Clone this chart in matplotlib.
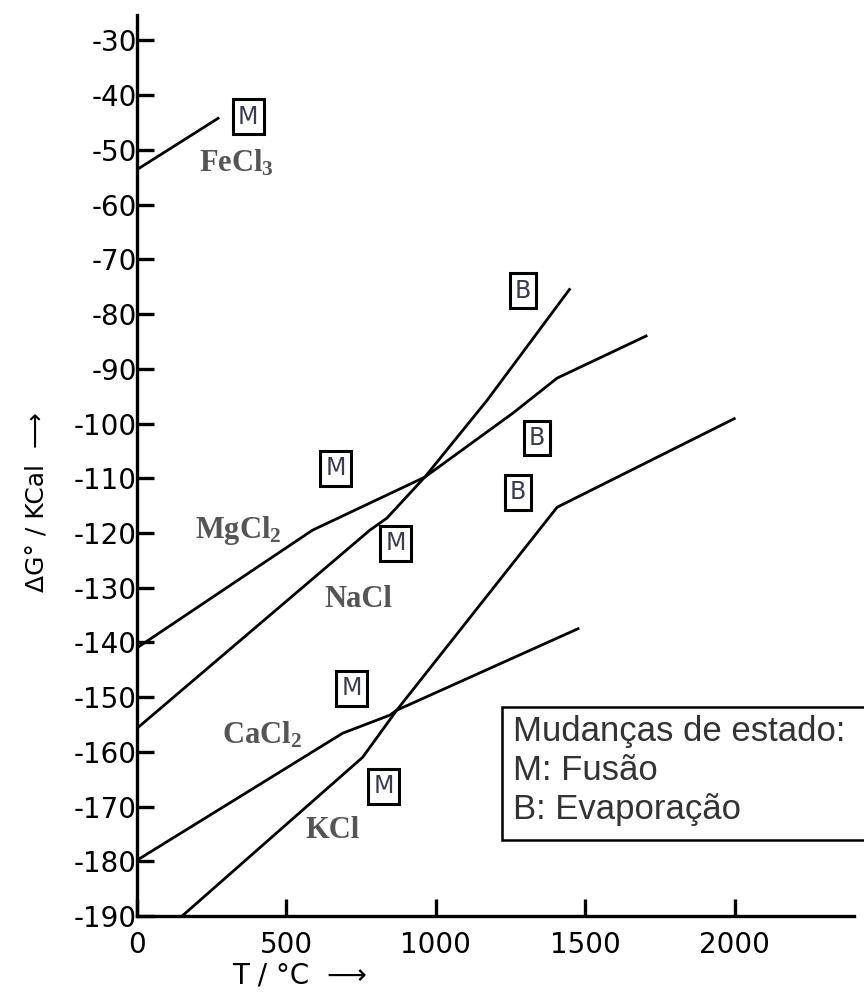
import matplotlib.pyplot as plt
from matplotlib.patches import Rectangle

plt.rcParams['mathtext.fontset'] = 'custom'
plt.rcParams['mathtext.rm'] = 'Liberation Serif'
plt.rcParams['mathtext.bf'] = 'Liberation Serif:bold'
plt.rcParams['mathtext.default'] = 'bf'

# Ellingham-type lines: T in °C, ΔG° in kcal
fecl3_t = [0, 275]
fecl3_g = [-53.6, -44.1]

mgcl2_t = [0, 587, 963, 1258, 1406, 1708]
mgcl2_g = [-141.0, -119.5, -109.8, -98.1, -91.7, -83.9]

nacl_t = [0, 779, 836, 963, 1171, 1450]
nacl_g = [-155.7, -119.5, -117.3, -109.8, -95.8, -75.3]

cacl2_t = [0, 688, 846, 869, 1480]
cacl2_g = [-179.8, -156.6, -153.3, -152.4, -137.4]

kcl_t = [151, 755, 869, 1406, 2003]
kcl_g = [-190.0, -161.0, -152.4, -115.3, -99.0]

series = [
    (fecl3_t, fecl3_g), (mgcl2_t, mgcl2_g), (nacl_t, nacl_g),
    (cacl2_t, cacl2_g), (kcl_t, kcl_g),
]

# compound names and where they sit
names = ['FeCl$_3$', 'MgCl$_2$', 'NaCl', 'CaCl$_2$', 'KCl']
name_t = [334, 338, 740, 418, 654]
name_g = [-52.5, -119.5, -132.1, -156.9, -174.3]

# phase changes (M: melting, B: boiling)
change_kind = ['M', 'M', 'M', 'M', 'M', 'B', 'B', 'B']
change_t = [372, 664, 866, 718, 825, 1292, 1339, 1275]
change_g = [-43.9, -108.2, -121.9, -148.4, -166.3, -75.7, -102.7, -112.6]

x_ticks = [0, 500, 1000, 1500, 2000]
y_ticks = list(range(-190, -29, 10))

fig = plt.figure(figsize=(8.64, 9.92), dpi=100)
ax = fig.add_axes([0.1586, 0.0766, 0.830, 0.908])

for t, g in series:
    ax.plot(t, g, color='black', lw=2.0, solid_capstyle='butt')

for name, t, g in zip(names, name_t, name_g):
    ax.text(t, g, name, fontsize=22, family='Liberation Serif', weight='bold',
            color='#555555', ha='center', va='center')

for kind, t, g in zip(change_kind, change_t, change_g):
    ax.text(t, g, kind, fontsize=17, family='DejaVu Sans', color='#3a3a50',
            ha='center', va='center',
            bbox=dict(boxstyle='square,pad=0.22', fc='white', ec='black', lw=2.2))

ax.set_xlim(0, 2400)
ax.set_ylim(-190, -25.4)
ax.set_xticks(x_ticks)
ax.set_xticklabels([str(v) for v in x_ticks])
ax.set_yticks(y_ticks)
ax.set_yticklabels(['-%d' % abs(v) for v in y_ticks])

for side in ['top', 'right']:
    ax.spines[side].set_visible(False)
for side in ['left', 'bottom']:
    ax.spines[side].set_linewidth(2.4)

ax.tick_params(axis='both', direction='in', length=12, width=2.4,
               labelsize=20, colors='black')
ax.tick_params(axis='y', pad=0)
ax.tick_params(axis='x', pad=11)

fig.text(300 / 864, 1 - 976 / 992, 'T / °C  ⟶', fontsize=20,
         ha='center', va='center')
fig.text(37 / 864, 1 - 502 / 992, 'ΔG° / KCal  ⟶', fontsize=18,
         ha='center', va='center', rotation=90)

# legend box for the state changes
fig.patches.append(Rectangle((502 / 864, 1 - 840 / 992), 0.45, 133 / 992,
                             transform=fig.transFigure, fc='white',
                             ec='black', lw=1.8))
legend_lines = ['Mudanças de estado:', 'M: Fusão', 'B: Evaporação']
for i, line in enumerate(legend_lines):
    fig.text(513 / 864, 1 - (731 + 39.5 * i) / 992, line, fontsize=25,
             family='Liberation Sans', color='#333333', ha='left', va='center')

fig.savefig('out.png', dpi=100)
